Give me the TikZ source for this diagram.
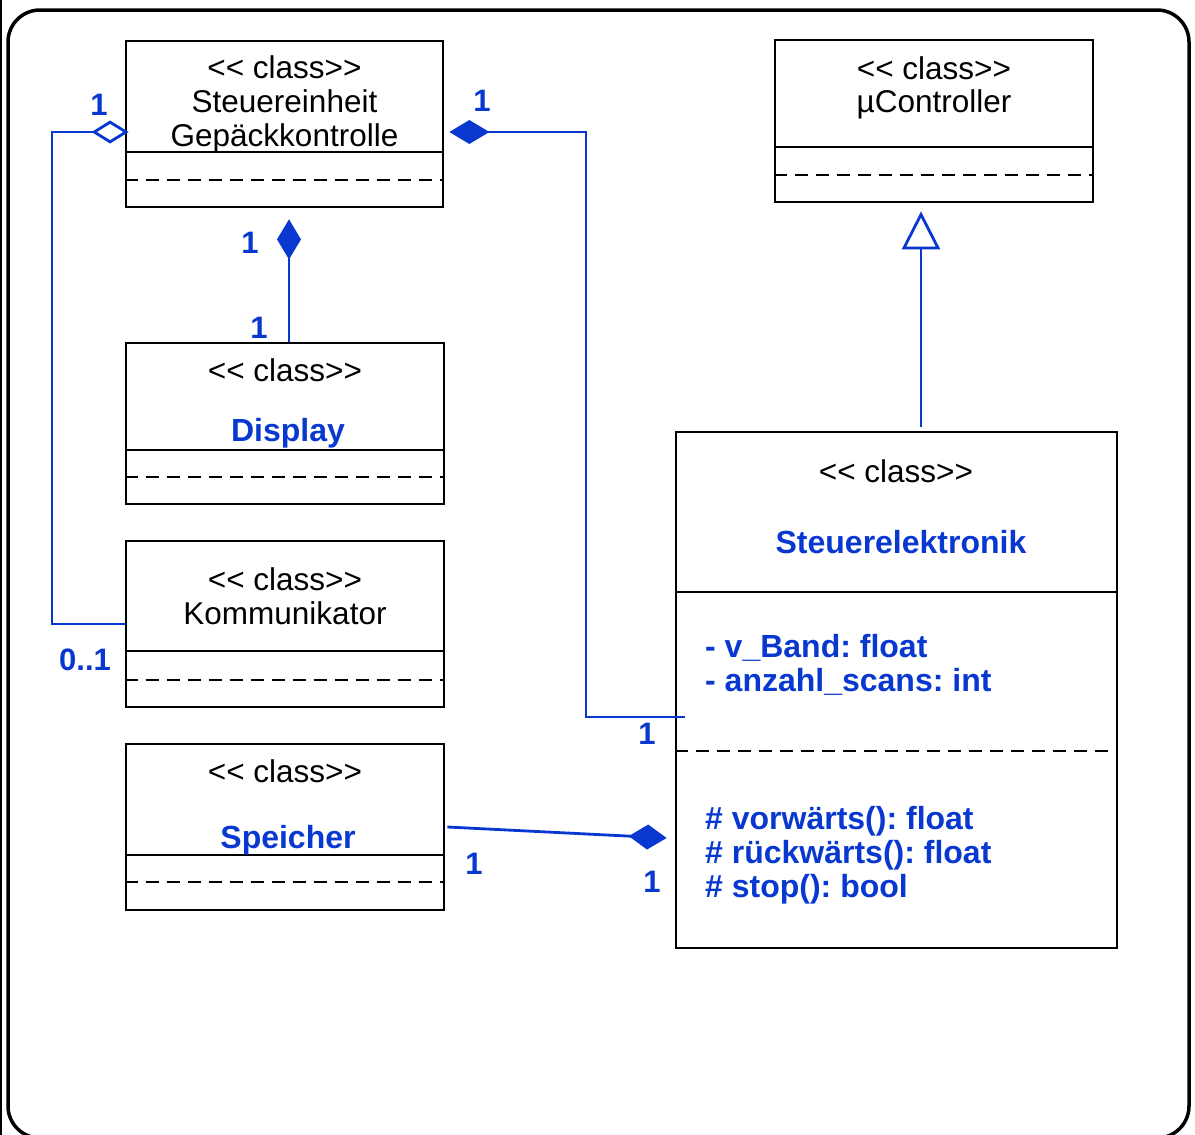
\documentclass[tikz,border=0pt]{standalone}
\usepackage{fontspec}
\setmainfont{Liberation Sans}
\usetikzlibrary{arrows.meta,calc}
\definecolor{umlblue}{RGB}{8,56,208}
\newcommand{\stereo}{<\kern0pt< class>\kern0pt>}
\frenchspacing
\begin{document}
\begin{tikzpicture}[x=1pt,y=-1pt,
  classbox/.style={draw=black,line width=2.8pt,inner sep=0pt},
  sepline/.style={draw=black,line width=2.8pt},
  dashsep/.style={draw=black,line width=2.8pt,dash pattern=on 13pt off 8pt},
  txt/.style={anchor=base,inner sep=0pt,font=\fontsize{31.5}{34}\selectfont},
  cname/.style={txt,text=umlblue,font=\fontsize{32}{34}\selectfont\bfseries},
  member/.style={anchor=base west,inner sep=0pt,text=umlblue,font=\fontsize{32}{34}\selectfont\bfseries},
  mult/.style={inner sep=0pt,text=umlblue,font=\fontsize{31}{34}\selectfont\bfseries},
  link/.style={draw=umlblue,line width=2.8pt},
  filldia/.style={-{Diamond[length=40pt,width=24pt,fill=umlblue]}},
  opendia/.style={-{Diamond[open,length=37pt,width=23pt,fill=white]}},
  inherit/.style={-{Triangle[open,length=38pt,width=38pt,fill=white]}}]
\useasboundingbox (0,0) rectangle (1195,1135);

% outer frame
\draw[line width=1.5pt] (1,0) -- (1,1135);
\draw[line width=3.5pt,rounded corners=32pt] (8,10) rectangle (1189,1138);

% class boxes
\node[classbox,minimum width=317pt,minimum height=166pt] (steu) at (284.5,124) {};
\draw[sepline] (steu.west |- 0,152) -- (steu.east |- 0,152);
\draw[dashsep] (steu.west |- 0,180) -- (steu.east |- 0,180);
\node[txt] (steu1) at (284.5,78) {\stereo};
\node[txt] (steu2) at (284.5,112) {Steuereinheit};
\node[txt] (steu3) at (284.5,146) {Gepäckkontrolle};

\node[classbox,minimum width=318pt,minimum height=161pt] (disp) at (285,423.5) {};
\draw[sepline] (disp.west |- 0,450) -- (disp.east |- 0,450);
\draw[dashsep] (disp.west |- 0,477) -- (disp.east |- 0,477);
\node[txt] (disp1) at (285,381) {\stereo};
\node[cname] (disp2) at (288,441) {Display};

\node[classbox,minimum width=318pt,minimum height=166pt] (komm) at (285,624) {};
\draw[sepline] (komm.west |- 0,651) -- (komm.east |- 0,651);
\draw[dashsep] (komm.west |- 0,680) -- (komm.east |- 0,680);
\node[txt] (komm1) at (285,590) {\stereo};
\node[txt] (komm2) at (285,624) {Kommunikator};

\node[classbox,minimum width=318pt,minimum height=166pt] (speich) at (285,827) {};
\draw[sepline] (speich.west |- 0,855) -- (speich.east |- 0,855);
\draw[dashsep] (speich.west |- 0,882) -- (speich.east |- 0,882);
\node[txt] (speich1) at (285,782) {\stereo};
\node[cname] (speich2) at (288,848) {Speicher};

\node[classbox,minimum width=318pt,minimum height=162pt] (mctrl) at (934,121) {};
\draw[sepline] (mctrl.west |- 0,147) -- (mctrl.east |- 0,147);
\draw[dashsep] (mctrl.west |- 0,175) -- (mctrl.east |- 0,175);
\node[txt] (mctrl1) at (934,79) {\stereo};
\node[txt] (mctrl2) at (934,112) {µController};

\node[classbox,minimum width=441pt,minimum height=516pt] (elek) at (896.5,690) {};
\draw[sepline] (elek.west |- 0,592) -- (elek.east |- 0,592);
\draw[dashsep] (elek.west |- 0,751) -- (elek.east |- 0,751);
\node[txt] (elek1) at (896,482) {\stereo};
\node[cname] (elek2) at (901,553) {Steuerelektronik};
\node[member] (attr1) at (705,657) {- v\_Band: float};
\node[member] (attr2) at (705,691) {- anzahl\_scans: int};
\node[member] (op1) at (705,829) {\# vorwärts(): float};
\node[member] (op2) at (705,863) {\# rückwärts(): float};
\node[member] (op3) at (705,897) {\# stop(): bool};

% connectors
\coordinate (bendA) at (52,132);
\draw[link,opendia] (komm.west |- 0,624) -| (bendA) -- ($(steu.west |- 0,132)+(4,0)$);

\coordinate (bendB) at (586,132);
\draw[link,filldia] ($(elek.west |- 0,717)+(10,0)$) -| (bendB) -- ($(steu.east |- 0,132)+(5,0)$);

\draw[link,filldia] ($(disp.north)+(4,0)$) -- ($(steu.south)+(4.5,11)$);

\draw[link,-{Diamond[length=38pt,width=25pt,fill=umlblue]}] ($(speich.east)+(2,0)$) -- ($(elek.west |- 0,838)+(-8,0)$);

\draw[link,inherit] ($(elek.north)+(24.5,-4)$) -- ($(mctrl.south)+(-13,8)$);

% multiplicities
\node[mult] (mA1) at (99,105) {1};
\node[mult] (mA2) at (85,660) {0..1};
\node[mult] (mB1) at (482,101) {1};
\node[mult] (mB2) at (647,734) {1};
\node[mult] (mC1) at (250,243) {1};
\node[mult] (mC2) at (259,328) {1};
\node[mult] (mD1) at (474,864) {1};
\node[mult] (mD2) at (652,882) {1};
\end{tikzpicture}
\end{document}
